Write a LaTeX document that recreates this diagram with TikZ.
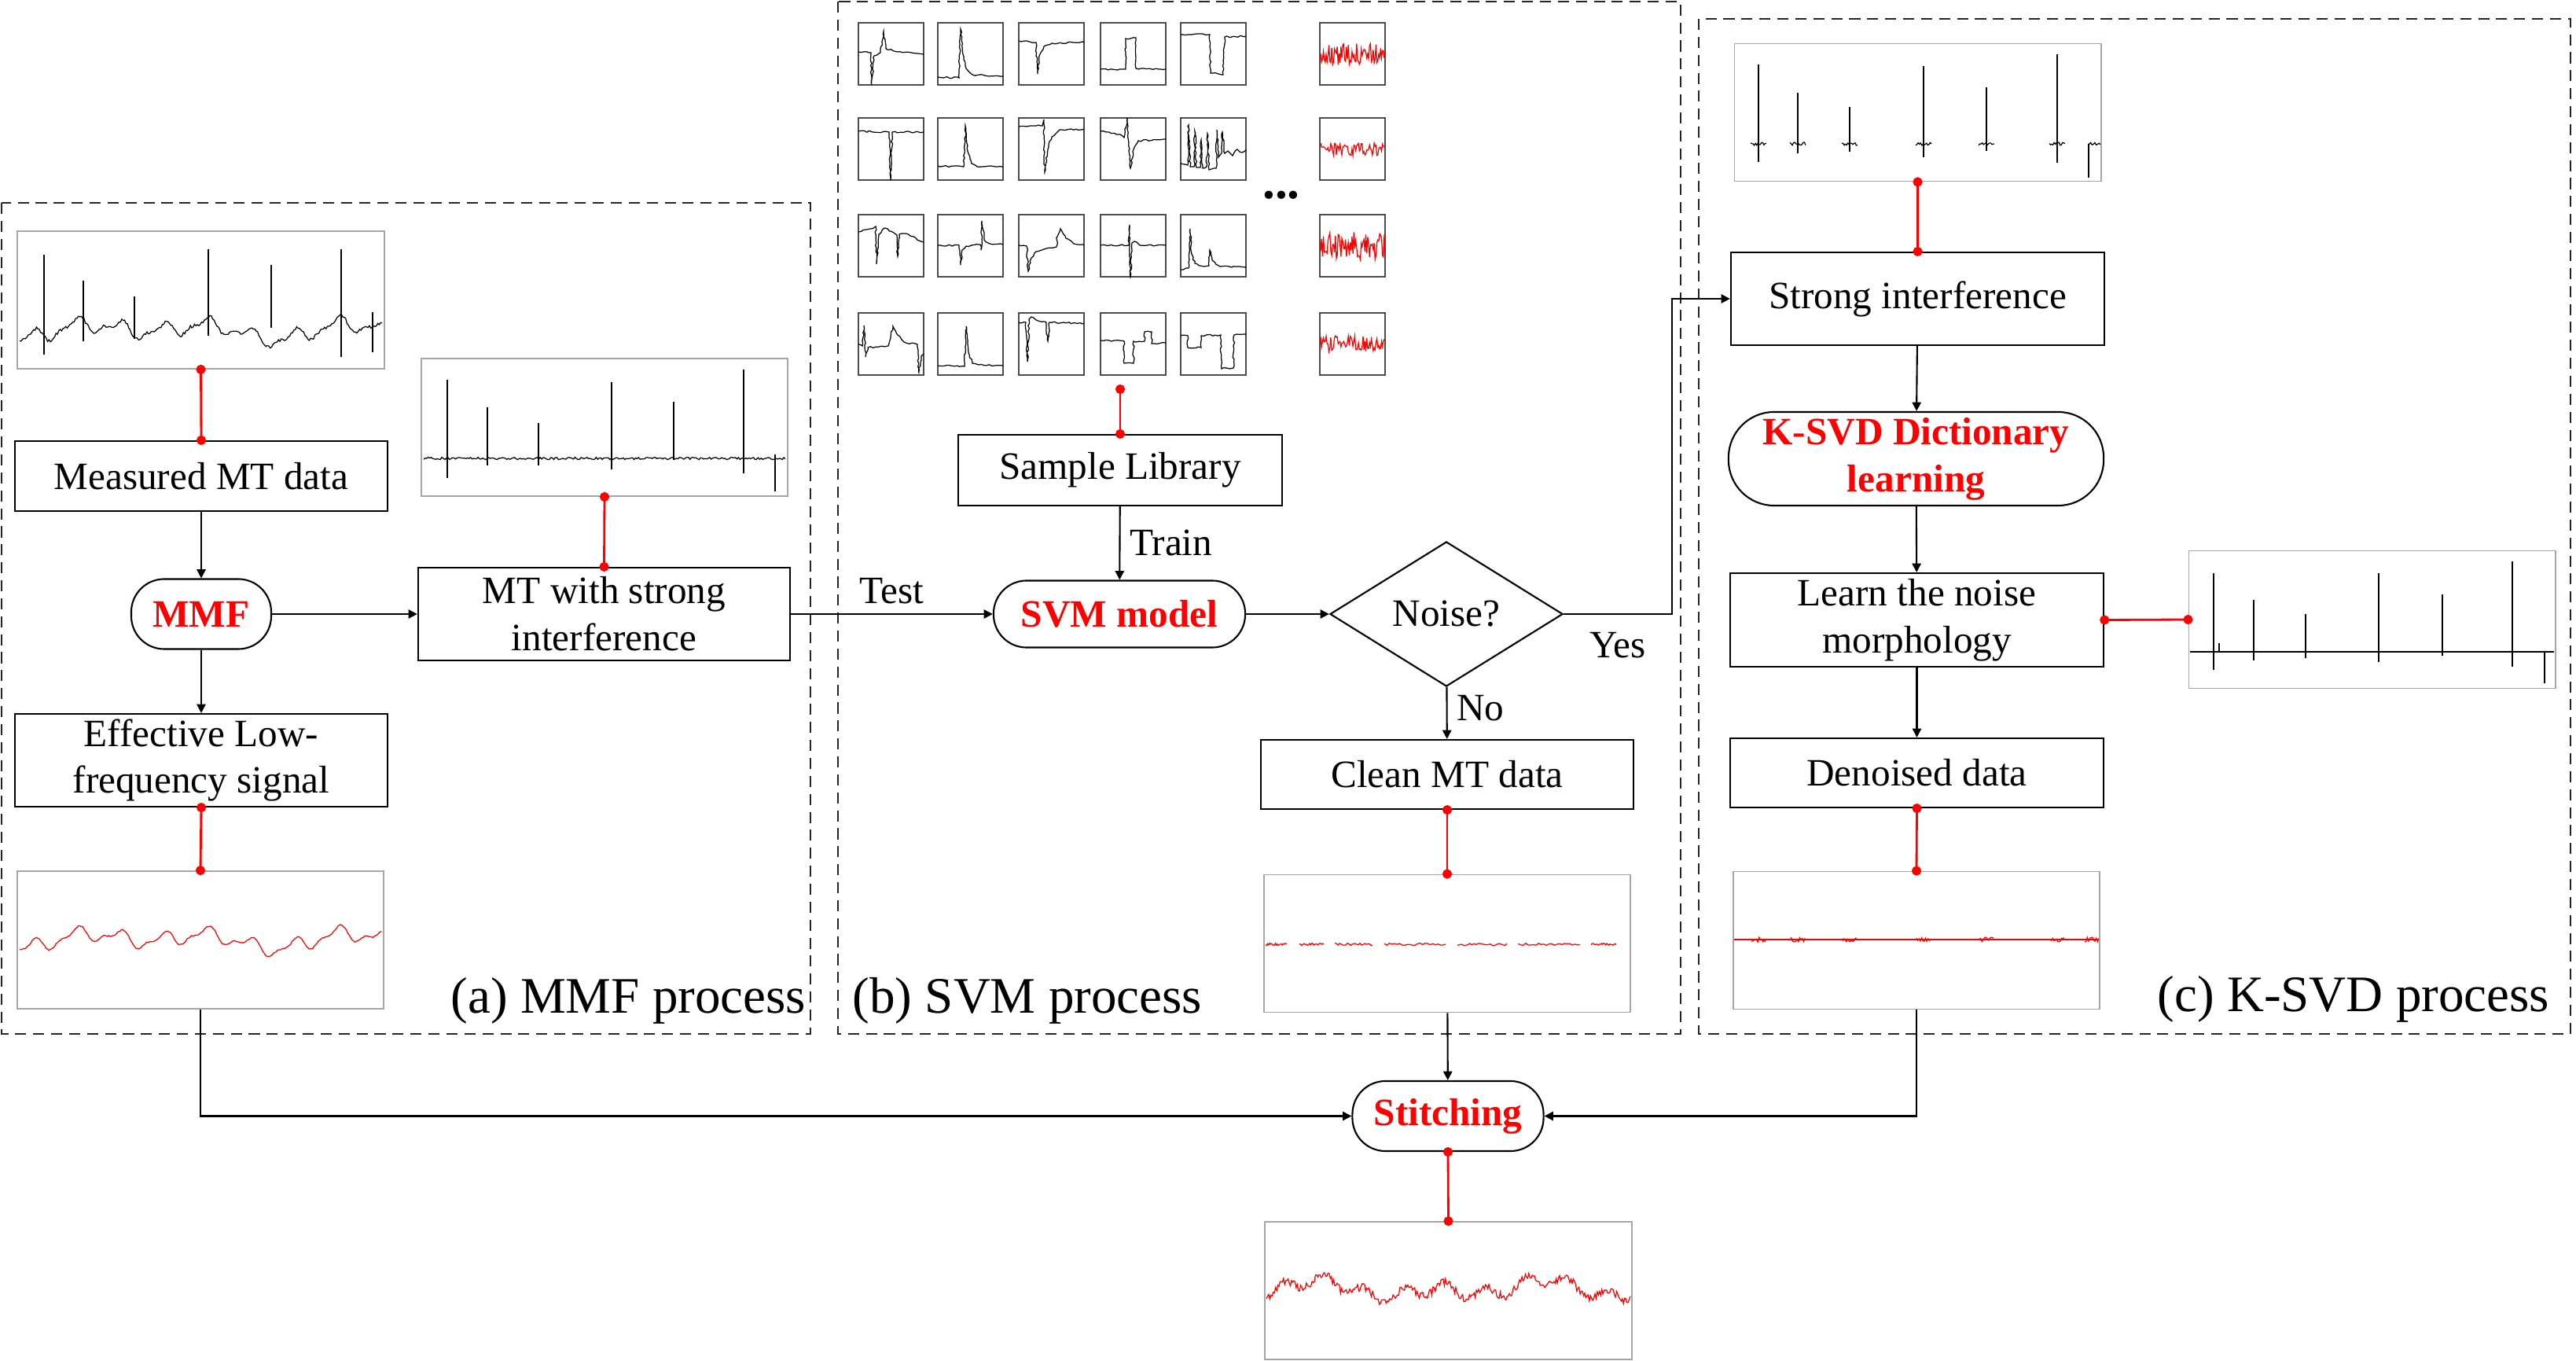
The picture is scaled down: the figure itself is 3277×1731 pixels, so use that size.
\documentclass[tikz,border=0pt]{standalone}
\usepackage{fontspec}
\setmainfont{Liberation Serif}
\usetikzlibrary{arrows.meta,shapes.geometric,decorations.pathmorphing}

\tikzset{
  box/.style={draw, line width=0.6pt, minimum width=4.73cm, minimum height=0.89cm,
    align=center, inner sep=1pt, font=\fontsize{14}{17}\selectfont},
  tallbox/.style={box, minimum height=1.18cm},
  term/.style={draw, line width=0.6pt, rounded corners=0.42cm, minimum height=0.89cm,
    inner sep=1pt, align=center, text=red, font=\fontsize{14}{17}\selectfont\bfseries},
  sigbox/.style={draw=gray!70, line width=0.5pt, minimum width=4.66cm,
    minimum height=1.75cm, inner sep=0pt},
  cellbox/.style={draw=gray!60!black, line width=0.5pt},
  procframe/.style={draw=black!85, line width=0.6pt, dash pattern=on 4pt off 2.5pt},
  flow/.style={line width=0.6pt, -{Triangle[length=3.2pt,width=3.2pt]}},
  reddot/.style={red, line width=0.8pt, {Circle[length=3.4pt]}-{Circle[length=3.4pt]},
    shorten <=-1.7pt, shorten >=-1.7pt},
  lbl/.style={font=\fontsize{14}{17}\selectfont},
  proclabel/.style={inner sep=0pt, font=\fontsize{18.5}{22}\selectfont},
  wave/.style={line width=0.35pt},
  jitter/.style={decorate, decoration={random steps, segment length=1pt, amplitude=0.3pt}},
}

\begin{document}
\begin{tikzpicture}[x=0.01cm, y=-0.01cm]
\pgfmathsetseed{3}
\useasboundingbox (0,0) rectangle (3277,1731);

% dashed process frames
\draw[procframe] (2,258) rectangle (1031,1315);
\draw[procframe] (1066,2) rectangle (2138,1315);
\draw[procframe] (2161,24) rectangle (3270,1315);

% (a) MMF process
\node[sigbox] (sigmeas) at (255.5,381.5) {};
\node[box] (meas) at (256,605.5) {Measured MT data};
\node[term, minimum width=1.78cm] (mmf) at (256,781) {MMF};
\node[tallbox] (lowf) at (256,967) {Effective Low-\\frequency signal};
\node[sigbox] (siglow) at (255,1195.5) {};
\node[tallbox] (mtsi) at (768.5,781) {MT with strong\\interference};
\node[sigbox] (sigmtsi) at (769,543.5) {};
\node[proclabel, anchor=east] (labA) at (1026,1273) {(a) MMF process};

\draw[wave] plot[domain=25:486, samples=260]
  (\x, {420+8*sin(6.5*\x)+7*sin(2.2*\x+40)+4*sin(13*\x+10)+5*sin(1.1*\x+70)+2*rand});
\foreach \sx/\st/\sb in {56/324/451, 106/357/434, 171/377/431, 265/317/427,
    345/337/417, 434/317/454, 474/397/448}
  \draw[wave] (\sx,\st) -- (\sx,\sb);
\draw[wave, red] plot[domain=25:485, samples=260]
  (\x, {1195+8*sin(6.5*\x)+7*sin(2.2*\x+40)+4*sin(13*\x+10)+5*sin(1.1*\x+70)+0.8*rand});
\draw[wave] plot[domain=539:999, samples=240] (\x, {583+1.5*rand});
\foreach \sx/\st/\sb in {569/483/608, 620/518/592, 685/538/592, 778/486/597,
    857/511/585, 946/470/602, 986/578/625}
  \draw[wave] (\sx,\st) -- (\sx,\sb);

% (b) SVM process: sample library
\foreach \cx/\cy/\pts in {
  1092/29/{(0,37)--(16,38)--(17,79)--(20,42)--(28,38)--(32,11)--(35,33)--(50,37)--(83,40)},
  1193/29/{(0,69)--(27,70)--(29,8)--(32,40)--(36,58)--(44,66)--(83,68)},
  1296/29/{(0,23)--(22,25)--(24,65)--(27,40)--(32,30)--(42,26)--(83,25)},
  1400/29/{(0,59)--(32,59)--(32,20)--(45,19)--(45,58)--(83,59)},
  1502/29/{(0,15)--(37,15)--(38,64)--(54,66)--(56,18)--(83,17)},
  1092/150/{(0,17)--(39,18)--(41,79)--(43,18)--(83,18)},
  1193/150/{(0,61)--(33,62)--(35,10)--(38,42)--(43,58)--(50,62)--(83,62)},
  1296/150/{(0,11)--(30,10)--(32,2)--(33,69)--(37,40)--(42,24)--(52,15)--(83,14)},
  1400/150/{(0,17)--(25,21)--(30,25)--(34,0)--(38,64)--(42,40)--(48,29)--(83,27)},
  1502/150/{(0,58)--(9,60)--(10,9)--(12,62)--(17,62)--(18,17)--(20,63)--(25,63)--(26,28)--(28,64)--(33,62)--(34,20)--(36,66)--(45,64)--(46,15)--(48,50)--(52,45)--(53,18)--(56,45)--(60,42)--(66,48)--(72,40)--(78,44)--(83,40)},
  1092/273/{(0,22)--(15,18)--(22,15)--(23,63)--(26,25)--(33,17)--(45,23)--(49,26)--(50,53)--(52,25)--(60,24)--(83,35)},
  1193/273/{(0,39)--(27,39)--(29,64)--(31,45)--(36,40)--(54,38)--(55,45)--(56,8)--(59,32)--(66,37)--(83,38)},
  1296/273/{(0,39)--(10,40)--(12,72)--(16,55)--(22,47)--(35,43)--(48,41)--(49,28)--(53,18)--(60,30)--(70,37)--(83,39)},
  1400/273/{(0,39)--(36,39)--(37,13)--(38,79)--(40,36)--(43,34)--(50,39)--(83,39)},
  1502/273/{(0,70)--(10,68)--(12,18)--(14,50)--(18,62)--(30,66)--(36,65)--(37,45)--(40,58)--(50,66)--(83,67)},
  1092/398/{(0,40)--(5,42)--(7,16)--(9,56)--(12,44)--(38,42)--(40,35)--(44,17)--(50,28)--(58,37)--(75,40)--(77,77)--(80,55)--(83,52)},
  1193/398/{(0,67)--(34,68)--(36,17)--(39,50)--(44,64)--(52,66)--(83,67)},
  1296/398/{(0,12)--(9,12)--(11,62)--(13,8)--(16,5)--(22,9)--(35,12)--(37,36)--(39,12)--(83,13)},
  1400/398/{(0,35)--(30,36)--(30,64)--(42,64)--(42,36)--(56,36)--(56,24)--(65,24)--(65,39)--(83,38)},
  1502/398/{(0,29)--(9,29)--(9,44)--(26,44)--(26,29)--(51,28)--(52,71)--(67,70)--(68,28)--(83,27)}}{
  \draw[cellbox] (\cx,\cy) rectangle ++(83,79);
  \draw[wave, shift={(\cx,\cy)}, jitter] \pts;
}
\foreach \cy/\amp in {29/14, 150/8, 273/18, 398/11}{
  \draw[cellbox] (1679,\cy) rectangle ++(83,79);
  \draw[wave, red, shift={(1679,\cy)}] plot[domain=1:82, samples=70] (\x, {40+\amp*rand});
}
\node[font=\fontsize{18}{18}\selectfont\bfseries, anchor=base] (dots) at (1630,253) {...};

\coordinate (libin) at (1425,495);
\node[box, minimum width=4.12cm, minimum height=0.9cm] (lib) at (1425,598) {Sample Library};
\node[term, minimum width=3.2cm, minimum height=0.85cm] (svm) at (1424,781) {SVM model};
\node[draw, diamond, line width=0.6pt, minimum width=2.96cm, minimum height=1.21cm,
  inner sep=1pt, lbl] (noise) at (1840,781) {Noise?};
\node[box, minimum height=0.88cm] (clean) at (1841,985) {Clean MT data};
\node[sigbox] (sigclean) at (1841,1200) {};
\node[proclabel, anchor=west] (labB) at (1084,1273) {(b) SVM process};
\foreach \a/\b in {1610/1637, 1653/1684, 1698/1746, 1761/1839, 1854/1917, 1931/2010, 2024/2056}
  \draw[wave, red] plot[domain=\a:\b, samples=25] (\x, {1201+1.5*rand});

% (c) K-SVD process
\node[sigbox] (sigsi) at (2439.5,143) {};
\node[tallbox, minimum width=4.75cm] (si) at (2439.5,380) {Strong interference};
\node[term, minimum width=4.77cm, minimum height=1.19cm, rounded corners=0.58cm]
  (ksvd) at (2437.5,583.5) {K-SVD Dictionary\\learning};
\node[tallbox, minimum width=4.75cm, minimum height=1.19cm] (learn) at (2438.5,788.5)
  {Learn the noise\\morphology};
\node[box, minimum width=4.75cm, minimum height=0.88cm] (den) at (2438.5,983) {Denoised data};
\node[sigbox] (sigmorph) at (3017.5,788) {};
\node[sigbox] (sigden) at (2438,1196) {};
\node[proclabel, anchor=east] (labC) at (3244,1271) {(c) K-SVD process};
\coordinate (yesturn) at (2127,380);

\foreach \sx/\st/\sb [evaluate=\sx as \sa using \sx-10, evaluate=\sx as \sz using \sx+10]
    in {2237/82/206, 2287/118/195, 2353/136/193, 2447/84/200, 2527/111/192, 2617/69/207}{
  \draw[wave] plot[domain=\sa:\sz, samples=14] (\x, {183+2*rand});
  \draw[wave] (\sx,\st) -- (\sx,\sb);
}
\draw[wave] plot[domain=2656:2672, samples=10] (\x, {183+2*rand});
\draw[wave] (2657,183) -- (2657,226);
\draw[wave] (2786,829) -- (3249,829);
\foreach \sx/\st/\sb in {2816/729/852, 2823/818/829, 2867/763/840, 2933/781/837,
    3026/729/842, 3107/756/834, 3196/714/848, 3237/829/869}
  \draw[wave] (\sx,\st) -- (\sx,\sb);
\draw[red, line width=0.3pt] (2206,1195) -- (2670,1195);
\foreach \sx [evaluate=\sx as \sa using \sx-9, evaluate=\sx as \sz using \sx+9]
    in {2237,2287,2353,2447,2527,2617,2661}
  \draw[wave, red] plot[domain=\sa:\sz, samples=12] (\x, {1195+3*rand});

% stitching
\node[term, minimum width=2.43cm] (stitch) at (1842,1419.5) {Stitching};
\node[sigbox] (sigout) at (1842.5,1641.5) {};
\draw[wave, red] plot[domain=1611:2074, samples=320]
  (\x, {1640+8*sin(7*\x)+7*sin(2.5*\x+30)+6*sin(1.2*\x+80)+5*rand});

\path
  (sigmeas.south) edge[reddot] (meas.north)
  (meas) edge[flow] (mmf)
  (mmf) edge[flow] (lowf)
  (lowf.south) edge[reddot] (siglow.north)
  (sigmtsi.south) edge[reddot] (mtsi.north)
  (mmf) edge[flow] (mtsi)
  (mtsi) edge[flow] node[lbl, above] {Test} (svm)
  (libin) edge[reddot] (lib.north)
  (lib) edge[flow] node[lbl, right] {Train} (svm)
  (svm) edge[flow] (noise)
  (noise) edge[flow] node[lbl, right, pos=0.4] {No} (clean)
  (clean.south) edge[reddot] (sigclean.north)
  (sigclean) edge[flow] (stitch)
  (stitch.south) edge[reddot] (sigout.north)
  (sigsi.south) edge[reddot] (si.north)
  (si) edge[flow] (ksvd)
  (ksvd) edge[flow] (learn)
  (learn) edge[flow] (den)
  (learn.east) edge[reddot] (sigmorph.west)
  (den.south) edge[reddot] (sigden.north);
\draw[flow] (noise.east) -| node[pos=0.25, below=3pt, lbl] {Yes} (yesturn) -- (si.west);
\draw[flow] (siglow.south) |- (stitch.west);
\draw[flow] (sigden.south) |- (stitch.east);

\end{tikzpicture}
\end{document}
